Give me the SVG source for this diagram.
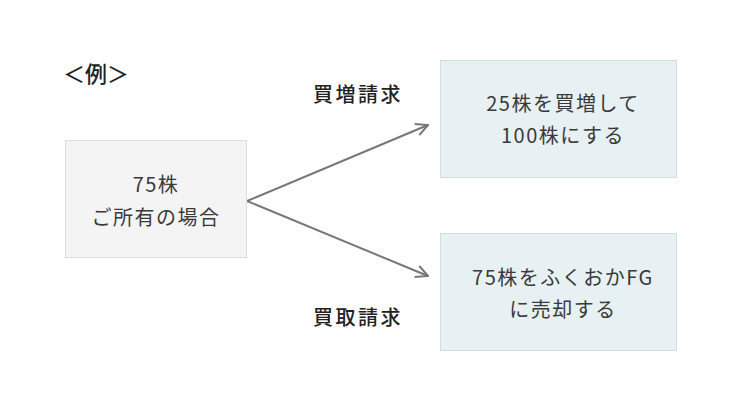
<svg xmlns="http://www.w3.org/2000/svg" width="740" height="400" viewBox="0 0 740 400">
<style>
text{font-family:"Noto Sans CJK JP","Noto Sans",sans-serif;text-anchor:middle;dominant-baseline:central}
.box{fill:#f4f4f4;stroke:#dcdcdc;stroke-width:1}
.box2{fill:#e7f0f2;stroke:#d2dde0;stroke-width:1}
.t{font-size:20px;fill:#3a3a3a;letter-spacing:1.5px}
.lbl{font-size:20px;fill:#222;font-weight:500;letter-spacing:2.5px}
.conn{stroke:#777;stroke-width:2;fill:none;marker-end:url(#ah)}
</style>
<defs>
<marker id="ah" viewBox="0 0 14 14" refX="13" refY="7" markerWidth="14" markerHeight="14" markerUnits="userSpaceOnUse" orient="auto">
<path d="M1,1 L13,7 L1,13" fill="none" stroke="#777" stroke-width="2"/>
</marker>
</defs>
<rect width="740" height="400" fill="#fff"/>
<text x="96" y="72" class="lbl" style="font-size:22px;letter-spacing:0">＜例＞</text>
<text x="358" y="93" class="lbl">買増請求</text>
<text x="358" y="316" class="lbl">買取請求</text>
<g id="connectors">
<line class="conn" x1="247" y1="201" x2="428" y2="125"/>
<line class="conn" x1="247" y1="201" x2="428" y2="276"/>
</g>
<g id="node-own">
<rect class="box" x="65.5" y="140.5" width="181" height="117"/>
<text class="t" x="156" y="183">75株</text>
<text class="t" x="156" y="216">ご所有の場合</text>
</g>
<g id="node-buy">
<rect class="box2" x="440.5" y="60.5" width="236" height="117"/>
<text class="t" x="563" y="102">25株を買増して</text>
<text class="t" x="563" y="134">100株にする</text>
</g>
<g id="node-sell">
<rect class="box2" x="440.5" y="233.5" width="236" height="117"/>
<text class="t" x="563" y="276">75株をふくおかFG</text>
<text class="t" x="563" y="308">に売却する</text>
</g>
</svg>
